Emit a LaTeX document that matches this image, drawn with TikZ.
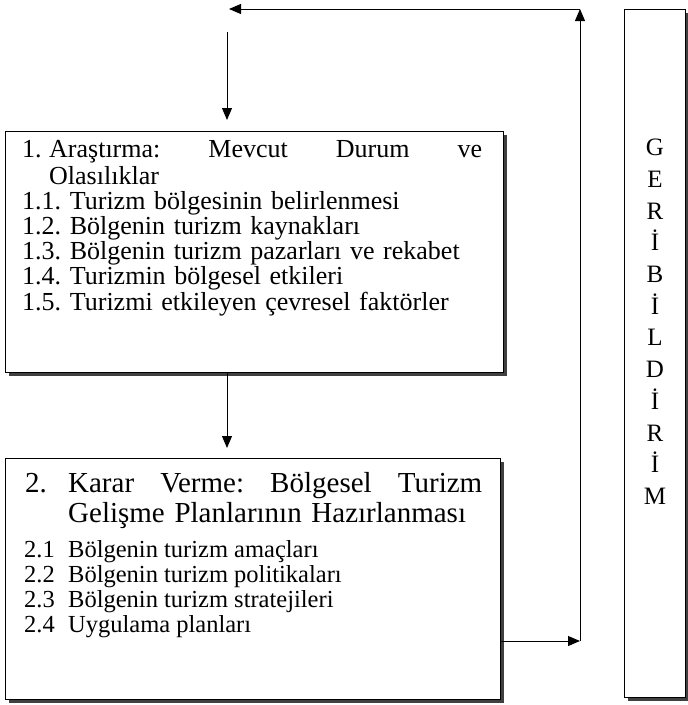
\documentclass[tikz,border=0pt]{standalone}
\usepackage{fontspec}
\setmainfont{Liberation Serif}
\usetikzlibrary{arrows.meta}
\usetikzlibrary{shadows}

\tikzset{
  panel/.style={draw=black, line width=0.9pt, fill=white, inner sep=0pt, anchor=north west,
    drop shadow={shadow xshift=3.5pt, shadow yshift=-3.5pt, fill=black!75, opacity=1}},
  flow/.style={draw=black, line width=1pt, -{Triangle[length=12pt,width=10pt]}},
  itemtext/.style={anchor=north west, inner sep=0pt, align=left, font=\fontsize{26}{25.2}\selectfont\frenchspacing},
  titletext/.style={anchor=north west, inner sep=0pt, align=left, font=\fontsize{29}{30}\selectfont\frenchspacing},
}

\begin{document}
\begin{tikzpicture}[x=1pt, y=-1pt]
	\useasboundingbox (0,0) rectangle (688,705);
	\node[panel, minimum width=498pt, minimum height=241pt] (box1) at (5,131) {};
	\node[panel, minimum width=495pt, minimum height=241pt] (box2) at (5,458) {};
	\node[panel, minimum width=61pt, minimum height=688pt] (fb) at (624,9) {};
	\node[itemtext, text width=460pt] (list1) at (22,140) {\makebox[25pt][l]{1.}\hspace{2pt}Araştırma:\hfill Mevcut\hfill Durum\hfill ve\\[1.5pt]
		\hspace*{27pt}Olasılıklar\\
		1.1. Turizm bölgesinin belirlenmesi\\
		1.2. Bölgenin turizm kaynakları\\
		1.3. Bölgenin turizm pazarları ve rekabet\\
		1.4. Turizmin bölgesel etkileri\\
		1.5. Turizmi etkileyen çevresel faktörler};
	\node[titletext, text width=457pt] (title2) at (25,472) {\makebox[43pt][l]{2.}Karar\hfill Verme:\hfill Bölgesel\hfill Turizm\\
		\hspace*{43pt}Gelişme Planlarının Hazırlanması};
	\node[itemtext, font=\fontsize{24.5}{25}\selectfont] (list2) at (24,540) {\makebox[44pt][l]{2.1}Bölgenin turizm amaçları\\
		\makebox[44pt][l]{2.2}Bölgenin turizm politikaları\\
		\makebox[44pt][l]{2.3}Bölgenin turizm stratejileri\\
		\makebox[44pt][l]{2.4}Uygulama planları};
	\node[anchor=north, inner sep=0pt, align=center, font=\fontsize{25}{31.7}\selectfont] (fbtext) at (655,139) {G\\E\\R\\İ\\B\\İ\\L\\D\\İ\\R\\İ\\M};
	\coordinate (entry) at (227,32);
	\coordinate (fbbottom) at (580,641);
	\coordinate (fbtop) at (580,9);
	\coordinate (back) at (229,9);
	\draw[flow, shorten >=11pt] (entry) -- (entry |- box1.north);
	\draw[flow, shorten >=10pt] (box1.south -| entry) -- (box2.north -| entry);
	\draw[flow] (box2.east |- fbbottom) -- (fbbottom);
	\draw[flow] (fbbottom) -- (fbtop);
	\draw[flow] (fbtop) -- (back);
\end{tikzpicture}
\end{document}
